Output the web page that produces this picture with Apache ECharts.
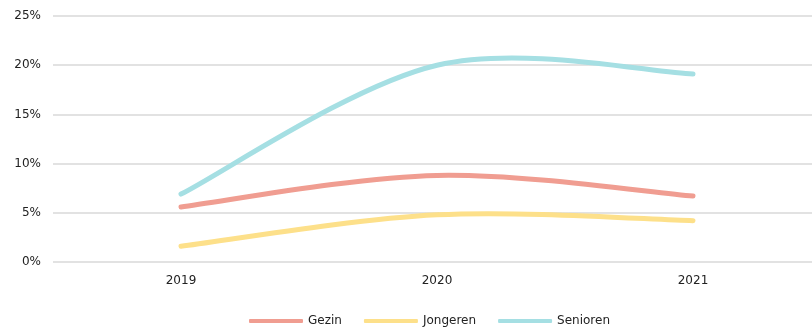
<!DOCTYPE html>
<html>
<head>
<meta charset="utf-8">
<script src="https://cdn.jsdelivr.net/npm/echarts@6/dist/echarts.min.js"></script>
<style>
  html, body { margin: 0; padding: 0; background: #fff; overflow: hidden; }
  #main { width: 821px; height: 329px; }
</style>
</head>
<body>
<div id="main"></div>
<script>
  // data
  var years = ['2019', '2020', '2021'];
  var gezin = [5.6, 8.8, 6.7];
  var jongeren = [1.6, 4.8, 4.2];
  var senioren = [6.9, 20.0, 19.1];
  var yTicks = [0, 5, 10, 15, 20, 25];

  // plot area runs a bit past the right edge of the window, like the original
  var myChart = echarts.init(document.getElementById('main'));

  var txt = { fontFamily: 'DejaVu Sans', fontSize: 12, color: '#222' };

  // smooth curve like the spreadsheet one (catmull-rom -> bezier)
  function curve(values, color) {
    return function (params, api) {
      if (params.dataIndex !== 0) return;
      var pts = values.map(function (v, i) { return api.coord([i, v]); });
      var n = pts.length;
      var d = 'M' + pts[0][0] + ' ' + pts[0][1];
      for (var i = 0; i < n - 1; i++) {
        var p0 = pts[Math.max(i - 1, 0)], p1 = pts[i], p2 = pts[i + 1], p3 = pts[Math.min(i + 2, n - 1)];
        var c1x = p1[0] + (p2[0] - p0[0]) / 6, c1y = p1[1] + (p2[1] - p0[1]) / 6;
        var c2x = p2[0] - (p3[0] - p1[0]) / 6, c2y = p2[1] - (p3[1] - p1[1]) / 6;
        d += ' C' + c1x + ' ' + c1y + ' ' + c2x + ' ' + c2y + ' ' + p2[0] + ' ' + p2[1];
      }
      return {
        type: 'path',
        shape: { pathData: d },
        style: { fill: null, stroke: color, lineWidth: 5, lineCap: 'round', lineJoin: 'round' }
      };
    };
  }

  function line(name, values, color) {
    return {
      name: name,
      type: 'custom',
      data: values.map(function (v, i) { return [i, v]; }),
      encode: { x: 0, y: 1 },
      itemStyle: { color: color },
      renderItem: curve(values, color)
    };
  }

  var option = {
    animation: false,
    grid: { left: 53, right: 0, top: 16, bottom: 67 },
    legend: {
      bottom: 2,
      left: 249,
      padding: 0,
      itemWidth: 54,
      itemHeight: 4,
      itemGap: 22,
      icon: 'roundRect',
      textStyle: txt,
      data: ['Gezin', 'Jongeren', 'Senioren']
    },
    xAxis: {
      type: 'category',
      data: years,
      boundaryGap: true,
      axisLine: { show: false },
      axisTick: { show: false },
      axisLabel: Object.assign({ margin: 13 }, txt)
    },
    yAxis: {
      type: 'value',
      min: yTicks[0],
      max: yTicks[yTicks.length - 1],
      interval: 5,
      axisLine: { show: false },
      axisTick: { show: false },
      splitLine: { lineStyle: { color: '#d9d9d9', width: 1.5 } },
      axisLabel: Object.assign({ margin: 12, formatter: '{value}%' }, txt)
    },
    series: [
      line('Gezin', gezin, '#f09d91'),
      line('Jongeren', jongeren, '#fde08a'),
      line('Senioren', senioren, '#a5dfe3')
    ]
  };

  myChart.setOption(option);
</script>
</body>
</html>
